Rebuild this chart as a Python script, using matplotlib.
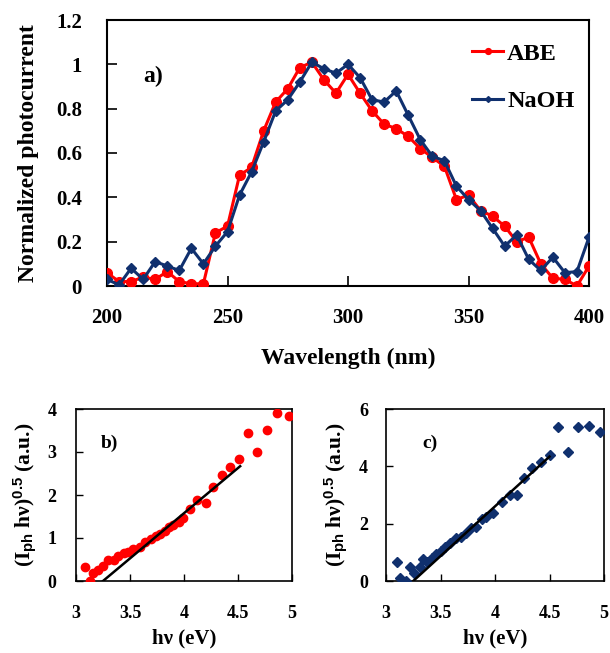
import matplotlib
matplotlib.use("Agg")
import matplotlib.pyplot as plt

plt.rcParams['font.family'] = ['Liberation Serif', 'DejaVu Serif']
plt.rcParams['font.weight'] = 'bold'
plt.rcParams['mathtext.fontset'] = 'custom'
plt.rcParams['mathtext.rm'] = 'Liberation Sans'
plt.rcParams['mathtext.bf'] = 'Liberation Serif:bold'
plt.rcParams['mathtext.it'] = 'Liberation Serif:italic'

# ---------------- data ----------------
wavelength = [200, 205, 210, 215, 220, 225, 230, 235, 240, 245, 250, 255, 260,
              265, 270, 275, 280, 285, 290, 295, 300, 305, 310, 315, 320,
              325, 330, 335, 340, 345, 350, 355, 360, 365, 370, 375, 380,
              385, 390, 395, 400]
abe = [0.06, 0.02, 0.02, 0.04, 0.03, 0.065, 0.02, 0.01, 0.01, 0.24, 0.27, 0.50, 0.535,
       0.70, 0.83, 0.89, 0.985, 1.01, 0.93, 0.87, 0.955, 0.87, 0.79, 0.73, 0.71,
       0.675, 0.62, 0.58, 0.54, 0.39, 0.41, 0.34, 0.315, 0.27, 0.20, 0.22, 0.10,
       0.035, 0.03, 0.0, 0.09]
naoh = [0.03, 0.005, 0.08, 0.03, 0.11, 0.09, 0.07, 0.17, 0.10, 0.18, 0.245, 0.41, 0.515,
        0.65, 0.79, 0.84, 0.92, 1.01, 0.98, 0.96, 1.0, 0.94, 0.84, 0.83, 0.88,
        0.77, 0.66, 0.585, 0.565, 0.45, 0.39, 0.34, 0.26, 0.18, 0.23, 0.12, 0.07,
        0.13, 0.06, 0.065, 0.22]

b_hv = [3.08, 3.13, 3.16, 3.20, 3.25, 3.30, 3.35, 3.39, 3.44, 3.48, 3.53, 3.59,
        3.64, 3.69, 3.74, 3.78, 3.82, 3.86, 3.90, 3.95, 3.99, 4.06, 4.12, 4.20,
        4.27, 4.35, 4.43, 4.51, 4.59, 4.68, 4.77, 4.86, 4.97]
b_val = [0.33, 0.0, 0.19, 0.26, 0.36, 0.50, 0.49, 0.59, 0.64, 0.68, 0.74, 0.78,
         0.91, 0.97, 1.05, 1.09, 1.16, 1.25, 1.31, 1.38, 1.46, 1.67, 1.88, 1.81,
         2.19, 2.47, 2.66, 2.84, 3.45, 3.01, 3.51, 3.91, 3.84]
b_fit_x = [3.25, 4.52]
b_fit_y = [0.0, 2.67]

c_hv = [3.10, 3.13, 3.18, 3.22, 3.26, 3.31, 3.34, 3.38, 3.42, 3.46, 3.50, 3.54,
        3.59, 3.64, 3.69, 3.73, 3.78, 3.83, 3.88, 3.92, 3.98, 4.06, 4.14, 4.20,
        4.27, 4.34, 4.42, 4.50, 4.58, 4.67, 4.76, 4.86, 4.96]
c_val = [0.67, 0.09, 0.0, 0.50, 0.29, 0.50, 0.76, 0.67, 0.79, 0.93, 1.05, 1.20,
         1.31, 1.49, 1.55, 1.66, 1.84, 1.90, 2.15, 2.24, 2.36, 2.77, 3.0, 3.0,
         3.6, 3.95, 4.16, 4.40, 5.38, 4.51, 5.38, 5.41, 5.21]
c_fit_x = [3.25, 4.50]
c_fit_y = [0.0, 4.34]

RED = '#ff0000'
BLUE = '#10306e'

W, H = 610, 653
fig = plt.figure(figsize=(W / 100, H / 100), dpi=100)


def frac(l, t, r, b):
    return [l / W, 1 - b / H, (r - l) / W, (b - t) / H]


# ---------------- panel a ----------------
ax = fig.add_axes(frac(107, 20, 589, 286))
ax.plot(wavelength, abe, color=RED, lw=2.2, marker='o', ms=7, label='ABE', zorder=3)
ax.plot(wavelength, naoh, color=BLUE, lw=2.2, marker='D', ms=5, label='NaOH', zorder=4)
ax.set_xlim(200, 400)
ax.set_ylim(0, 1.2)
ax.set_xticks([200, 250, 300, 350, 400])
ax.set_yticks([0, 0.2, 0.4, 0.6, 0.8, 1.0, 1.2])
ax.set_yticklabels(['0', '0.2', '0.4', '0.6', '0.8', '1', '1.2'])
ax.tick_params(direction='in', length=7, width=1.2, labelsize=15, pad=16)
ax.tick_params(axis='y', pad=18)
for s in ax.spines.values():
    s.set_linewidth(1.5)
ax.set_xlabel('Wavelength (nm)', fontsize=17, fontweight='bold', labelpad=14)
ax.set_ylabel('Normalized photocurrent', fontsize=17, fontweight='bold', labelpad=12)
ax.text(0.095, 0.786, 'a)', transform=ax.transAxes, fontsize=17, fontweight='bold',
        ha='center', va='center')
leg = ax.legend(loc='upper right', bbox_to_anchor=(1.0, 0.97), frameon=False,
                fontsize=17.5, handlelength=1.3, handletextpad=0.15, labelspacing=1.05,
                markerscale=0.6, borderaxespad=0.2)

# ---------------- panel b ----------------
axb = fig.add_axes(frac(76, 409, 292, 581))
axb.plot(b_hv, b_val, 'o', color=RED, ms=6, zorder=3)
axb.plot(b_fit_x, b_fit_y, color='black', lw=1.8, zorder=4)
axb.set_xlim(3, 5)
axb.set_ylim(0, 4)
axb.set_xticks([3, 3.5, 4, 4.5, 5])
axb.set_xticklabels(['3', '3.5', '4', '4.5', '5'])
axb.set_yticks([0, 1, 2, 3, 4])
axb.tick_params(direction='in', length=5, width=1.0, labelsize=13, pad=17)
axb.tick_params(axis='y', pad=14)
for s in axb.spines.values():
    s.set_linewidth(1.2)
axb.set_xlabel('hν (eV)', fontsize=15, fontweight='bold', labelpad=5)
axb.set_ylabel(r'(I$_{\rm ph}$ hν)$^{\rm 0.5}$ (a.u.)', fontsize=15.5, fontweight='bold', labelpad=7)
axb.text(0.157, 0.80, 'b)', transform=axb.transAxes, fontsize=14, fontweight='bold',
         ha='center', va='center')

# ---------------- panel c ----------------
axc = fig.add_axes(frac(386, 409, 604, 581))
axc.plot(c_hv, c_val, 'D', color=BLUE, ms=5, zorder=3)
axc.plot(c_fit_x, c_fit_y, color='black', lw=1.8, zorder=4)
axc.set_xlim(3, 5)
axc.set_ylim(0, 6)
axc.set_xticks([3, 3.5, 4, 4.5, 5])
axc.set_xticklabels(['3', '3.5', '4', '4.5', '5'])
axc.set_yticks([0, 2, 4, 6])
axc.tick_params(direction='in', length=5, width=1.0, labelsize=13, pad=17)
axc.tick_params(axis='y', pad=13)
for s in axc.spines.values():
    s.set_linewidth(1.2)
axc.set_xlabel('hν (eV)', fontsize=15, fontweight='bold', labelpad=5)
axc.set_ylabel(r'(I$_{\rm ph}$ hν)$^{\rm 0.5}$ (a.u.)', fontsize=15.5, fontweight='bold', labelpad=7)
axc.text(0.20, 0.80, 'c)', transform=axc.transAxes, fontsize=14, fontweight='bold',
         ha='center', va='center')

fig.savefig('out.png', dpi=100)
